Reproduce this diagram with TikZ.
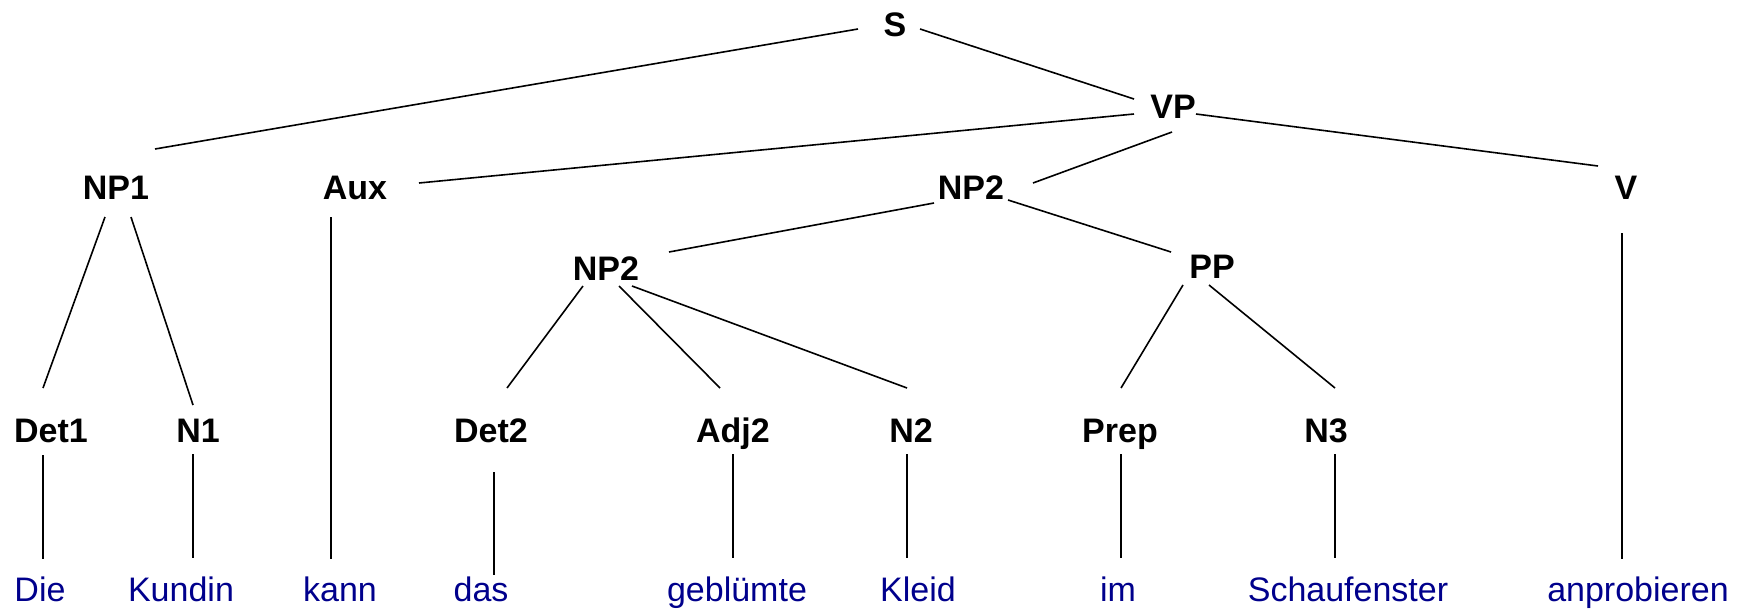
\documentclass[tikz,border=0pt]{standalone}
\usepackage{fontspec}
\setmainfont{Liberation Sans}
\definecolor{wordblue}{RGB}{0,0,140}
\begin{document}
\begin{tikzpicture}[x=1pt,y=-1pt,
  cat/.style={anchor=base,inner sep=0pt,font=\fontsize{34}{40}\selectfont\bfseries},
  word/.style={anchor=base,inner sep=0pt,text=wordblue,font=\fontsize{34}{40}\selectfont},
  edge/.style={draw=black,line width=1.6pt}]
\useasboundingbox (0,0) rectangle (1747,611);

% phrase and category labels
\node[cat] (S)    at (895,36)  {S};
\node[cat] (VP)   at (1173,118) {VP};
\node[cat] (NP1)  at (116,199) {NP1};
\node[cat] (Aux)  at (355,199) {Aux};
\node[cat] (NP2a) at (971,199) {NP2};
\node[cat] (V)    at (1626,199) {V};
\node[cat] (NP2b) at (606,280) {NP2};
\node[cat] (PP)   at (1212,278) {PP};
\node[cat] (Det1) at (51,442)  {Det1};
\node[cat] (N1)   at (198,442) {N1};
\node[cat] (Det2) at (491,442) {Det2};
\node[cat] (Adj2) at (733,442) {Adj2};
\node[cat] (N2)   at (911,442) {N2};
\node[cat] (Prep) at (1120,442) {Prep};
\node[cat] (N3)   at (1326,442) {N3};

% words of the sentence
\node[word] (die)    at (40,601)   {Die};
\node[word] (kundin) at (181,601)  {Kundin};
\node[word] (kann)   at (340,601)  {kann};
\node[word] (das)    at (481,601)  {das};
\node[word] (gebl)   at (737,601)  {geblümte};
\node[word] (kleid)  at (918,601)  {Kleid};
\node[word] (im)     at (1118,601) {im};
\node[word] (schauf) at (1348,601) {Schaufenster};
\node[word] (anpro)  at (1638,601) {anprobieren};

% branches
\draw[edge] ([shift={(-37,-7)}]S.base) -- ([shift={(39,-50)}]NP1.base);
\draw[edge] ([shift={(25,-7)}]S.base) -- ([shift={(-39,-19)}]VP.base);
\draw[edge] ([shift={(-39,-4)}]VP.base) -- ([shift={(64,-16)}]Aux.base);
\draw[edge] ([shift={(-1,14)}]VP.base) -- ([shift={(62,-16)}]NP2a.base);
\draw[edge] ([shift={(23,-4)}]VP.base) -- ([shift={(-28,-33)}]V.base);
\draw[edge] ([shift={(-37,4)}]NP2a.base) -- ([shift={(63,-28)}]NP2b.base);
\draw[edge] ([shift={(37,1)}]NP2a.base) -- ([shift={(-41,-26)}]PP.base);
\draw[edge] ([shift={(-11,18)}]NP1.base) -- ([shift={(-8,-54)}]Det1.base);
\draw[edge] ([shift={(15,18)}]NP1.base) -- ([shift={(-5,-37)}]N1.base);
\draw[edge] ([shift={(-24,18)}]Aux.base) -- ([shift={(-9,-42)}]kann.base);
\draw[edge] ([shift={(-23,6)}]NP2b.base) -- ([shift={(16,-54)}]Det2.base);
\draw[edge] ([shift={(13,6)}]NP2b.base) -- ([shift={(-13,-54)}]Adj2.base);
\draw[edge] ([shift={(26,6)}]NP2b.base) -- ([shift={(-4,-54)}]N2.base);
\draw[edge] ([shift={(-29,7)}]PP.base) -- ([shift={(1,-54)}]Prep.base);
\draw[edge] ([shift={(-3,7)}]PP.base) -- ([shift={(9,-54)}]N3.base);
\draw[edge] ([shift={(-4,34)}]V.base) -- ([shift={(-16,-42)}]anpro.base);
\draw[edge] ([shift={(-8,13)}]Det1.base) -- ([shift={(3,-42)}]die.base);
\draw[edge] ([shift={(-5,12)}]N1.base) -- ([shift={(12,-43)}]kundin.base);
\draw[edge] ([shift={(3,30)}]Det2.base) -- ([shift={(13,-26)}]das.base);
\draw[edge] ([shift={(0,12)}]Adj2.base) -- ([shift={(-4,-43)}]gebl.base);
\draw[edge] ([shift={(-4,12)}]N2.base) -- ([shift={(-11,-43)}]kleid.base);
\draw[edge] ([shift={(1,12)}]Prep.base) -- ([shift={(3,-43)}]im.base);
\draw[edge] ([shift={(9,12)}]N3.base) -- ([shift={(-13,-43)}]schauf.base);
\end{tikzpicture}
\end{document}
